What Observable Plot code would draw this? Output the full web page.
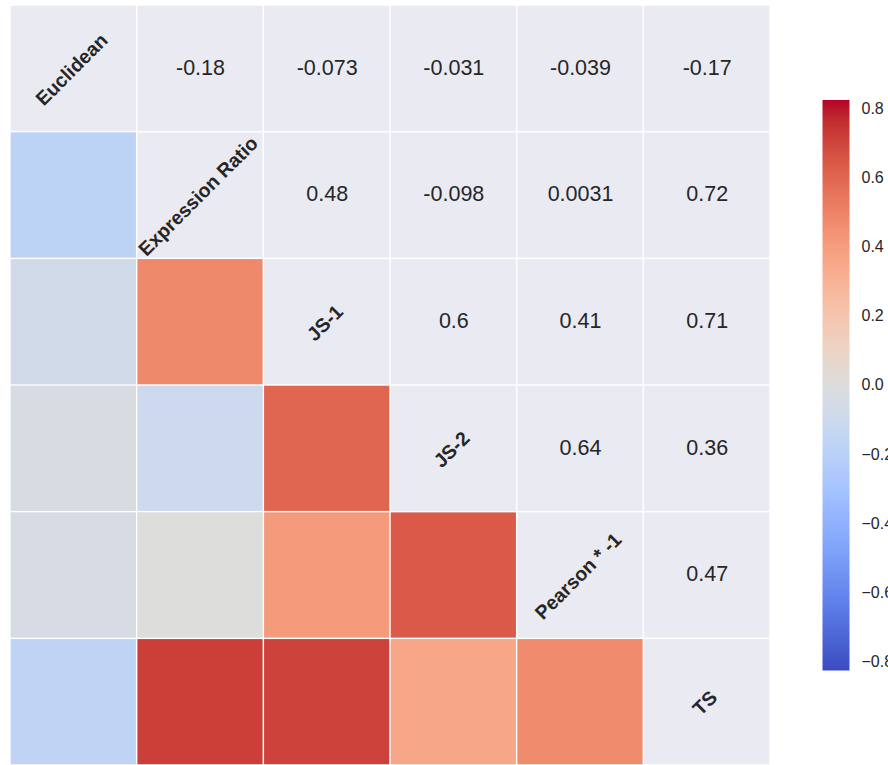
<!DOCTYPE html>
<html>
<head>
<meta charset="utf-8">
<script src="https://cdn.jsdelivr.net/npm/d3@7"></script>
<script src="https://cdn.jsdelivr.net/npm/@observablehq/plot@0.6"></script>
<style>
  html, body { margin: 0; padding: 0; background: #fff; overflow: hidden; }
  #wrap { position: relative; width: 888px; height: 765px; font-family: "Liberation Sans", Arial, sans-serif; }
  #wrap svg { position: absolute; top: 0; }
</style>
</head>
<body>
<div id="wrap"></div>
<script>
// Metric names (rows/columns of the correlation matrix)
const metrics = ["Euclidean", "Expression Ratio", "JS-1", "JS-2", "Pearson * -1", "TS"];

// Upper-triangle correlation values, one array per row (columns to the right of the diagonal)
const rowEuclidean       = [-0.18, -0.073, -0.031, -0.039, -0.17];
const rowExpressionRatio = [0.48, -0.098, 0.0031, 0.72];
const rowJS1             = [0.6, 0.41, 0.71];
const rowJS2             = [0.64, 0.36];
const rowPearson         = [0.47];
const upperRows = [rowEuclidean, rowExpressionRatio, rowJS1, rowJS2, rowPearson, []];

// Colour bar limits and tick labels
const vmax = 0.825;
const colorbarTicks = [-0.8, -0.6, -0.4, -0.2, 0.0, 0.2, 0.4, 0.6, 0.8];

// matplotlib "coolwarm" control colours
const coolwarm = [
  "rgb(59,76,192)","rgb(68,90,204)","rgb(77,104,215)","rgb(87,117,225)","rgb(98,130,234)",
  "rgb(108,142,241)","rgb(119,154,247)","rgb(130,165,251)","rgb(141,176,254)","rgb(152,185,255)",
  "rgb(163,194,255)","rgb(174,201,253)","rgb(184,208,249)","rgb(194,213,244)","rgb(204,217,238)",
  "rgb(213,219,230)","rgb(221,221,221)","rgb(229,216,209)","rgb(236,211,197)","rgb(241,204,185)",
  "rgb(245,196,173)","rgb(247,187,160)","rgb(247,177,148)","rgb(247,166,135)","rgb(244,154,123)",
  "rgb(241,141,111)","rgb(236,127,99)","rgb(229,112,88)","rgb(222,96,77)","rgb(213,80,66)",
  "rgb(203,62,56)","rgb(192,40,47)","rgb(180,4,38)"
];
const colorScale = {
  type: "linear",
  domain: [-vmax, vmax],
  interpolate: d3.piecewise(d3.interpolateRgb, coolwarm)
};

// Build cell table from the arrays
const cells = [];
metrics.forEach((rowName, i) => {
  metrics.forEach((colName, j) => {
    let value = null;
    if (j > i) value = upperRows[i][j - i - 1];
    else if (j < i) value = upperRows[j][i - j - 1];
    cells.push({row: rowName, col: colName, i, j, value});
  });
});
const lower = cells.filter(d => d.j < d.i);
const upper = cells.filter(d => d.j > d.i);
const diag = cells.filter(d => d.j === d.i);

const font = "Liberation Sans, Arial, sans-serif";

const main = Plot.plot({
  width: 780,
  height: 765,
  marginLeft: 10,
  marginRight: 10,
  marginTop: 5,
  marginBottom: 0,
  style: {fontFamily: font, background: "#fff"},
  x: {type: "band", domain: metrics, padding: 0, round: false, axis: null},
  y: {type: "band", domain: metrics, padding: 0, round: false, axis: null},
  color: colorScale,
  marks: [
    Plot.cell(cells, {x: "col", y: "row", fill: "#EAEAF2", inset: 0.75}),
    Plot.cell(lower, {x: "col", y: "row", fill: "value", inset: 0.75}),
    Plot.text(upper, {x: "col", y: "row", text: d => String(d.value), fontSize: 21.5, fill: "#262626", dy: -1}),
    Plot.text(diag, {x: "col", y: "row", text: "col", rotate: -45, fontSize: 19.5, fontWeight: "bold", fill: "#262626", dx: -2, dy: 1})
  ]
});
main.style.left = "0px";

const bar = Plot.plot({
  width: 108,
  height: 765,
  marginLeft: 42,
  marginRight: 39,
  marginTop: 99.5,
  marginBottom: 95,
  style: {fontFamily: font, background: "transparent", overflow: "visible"},
  x: {domain: [0, 1], axis: null},
  y: {domain: [-vmax, vmax], axis: null},
  color: colorScale,
  marks: [
    Plot.raster({x1: 0, x2: 1, y1: -vmax, y2: vmax, fill: (x, y) => y}),
    Plot.axisY(colorbarTicks, {anchor: "right", tickSize: 0, tickPadding: 12, fontSize: 16, fill: "#262626", tickFormat: d3.format(".1f"), label: null})
  ]
});
bar.style.left = "780px";

const wrap = document.getElementById("wrap");
wrap.appendChild(main);
wrap.appendChild(bar);
</script>
</body>
</html>
